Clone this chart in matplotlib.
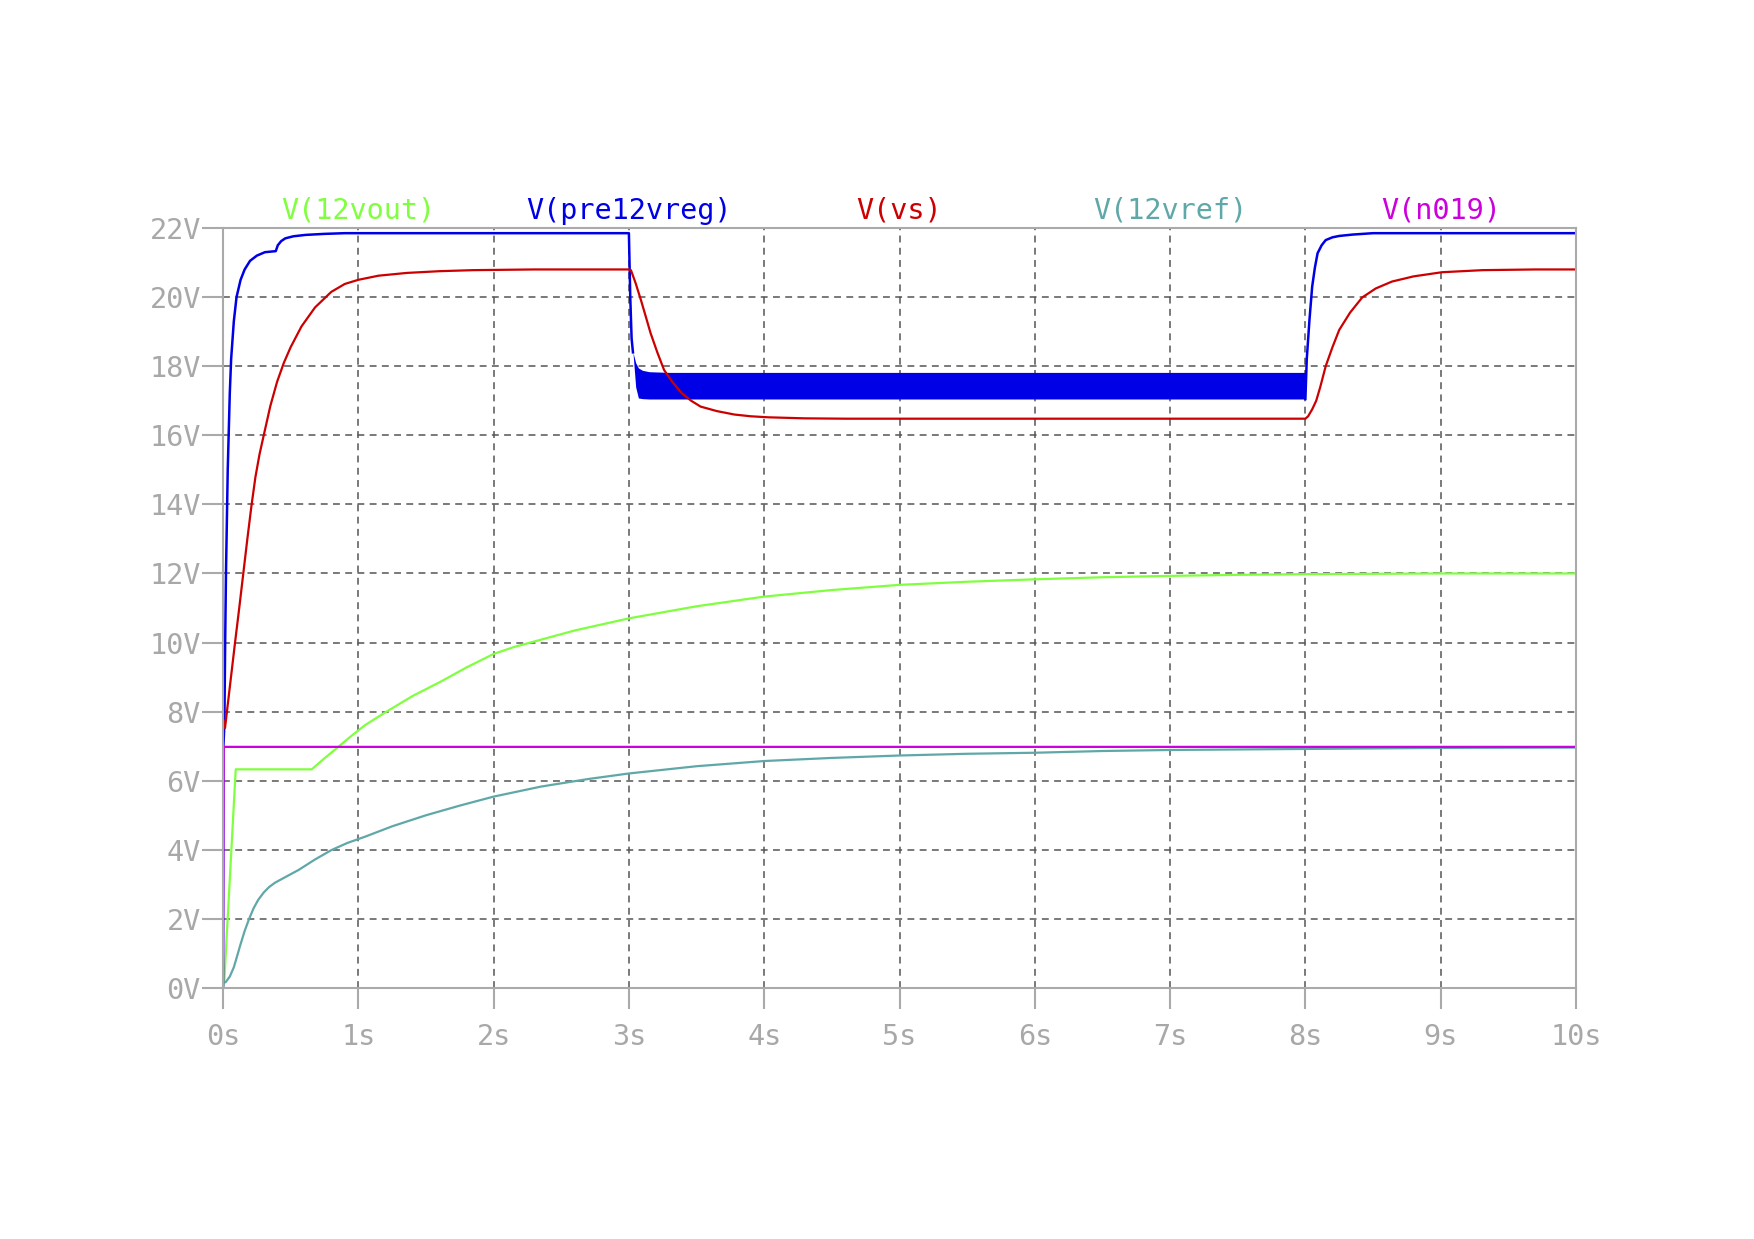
import matplotlib.pyplot as plt

# traces (time in s, voltage in V)
t_vout = [0.0, 0.01, 0.094, 0.656, 0.75, 0.84, 0.94, 1.05, 1.2, 1.4, 1.61, 1.8, 2.0, 2.15, 2.3, 2.6,
          3.0, 3.5, 4.0, 4.5, 5.0, 5.5, 6.0, 6.5, 7.0, 7.5, 8.0, 9.0, 10.0]
v_vout = [0.0, 0.23, 6.33, 6.33, 6.65, 6.94, 7.27, 7.61, 7.98, 8.45, 8.87, 9.28, 9.67, 9.87, 10.03, 10.35,
          10.70, 11.05, 11.33, 11.52, 11.67, 11.76, 11.83, 11.89, 11.93, 11.96, 11.98, 12.0, 12.0]

t_pre = [0.0, 0.003, 0.01, 0.016, 0.022, 0.035, 0.05, 0.06, 0.08, 0.10, 0.13, 0.16, 0.2, 0.25, 0.31,
         0.39, 0.405, 0.43, 0.46, 0.52, 0.61, 0.75, 0.9, 3.0, 3.01, 3.02, 3.03]
v_pre = [0.0, 7.0, 7.6, 10.0, 12.0, 15.0, 17.2, 18.2, 19.3, 20.0, 20.5, 20.8, 21.05, 21.2, 21.3,
         21.33, 21.5, 21.62, 21.7, 21.76, 21.8, 21.83, 21.85, 21.85, 20.0, 18.8, 18.4]
t_pre2 = [8.0, 8.01, 8.03, 8.05, 8.07, 8.09, 8.12, 8.15, 8.2, 8.25, 8.35, 8.5, 10.0]
v_pre2 = [17.05, 18.2, 19.34, 20.3, 20.85, 21.27, 21.5, 21.65, 21.73, 21.77, 21.81, 21.85, 21.85]

# ripple band of V(pre12vreg) between 3 s and 8 s
t_band = [3.03, 3.05, 3.07, 3.1, 3.15, 3.3, 5.0, 8.0]
v_band_hi = [18.4, 18.1, 17.95, 17.88, 17.84, 17.82, 17.82, 17.82]
v_band_lo = [18.4, 17.4, 17.08, 17.06, 17.05, 17.05, 17.05, 17.05]

t_vs = [0.0, 0.015, 0.05, 0.089, 0.12, 0.15, 0.18, 0.21, 0.24, 0.27, 0.30, 0.35, 0.40, 0.45, 0.5, 0.58,
        0.68, 0.8, 0.9, 1.0, 1.15, 1.36, 1.6, 1.85, 2.3, 3.0,
        3.015, 3.05, 3.09, 3.12, 3.16, 3.21, 3.26, 3.32, 3.39, 3.46, 3.53, 3.65, 3.78, 3.9, 4.03,
        4.3, 4.6, 8.0,
        8.02, 8.05, 8.08, 8.11, 8.15, 8.2, 8.25, 8.33, 8.42, 8.52, 8.64, 8.8, 9.01, 9.31, 9.7, 10.0]
v_vs = [7.8, 7.53, 8.7, 10.0, 11.0, 12.0, 13.0, 13.95, 14.8, 15.45, 15.98, 16.85, 17.55, 18.1, 18.55, 19.15,
        19.7, 20.15, 20.38, 20.5, 20.62, 20.7, 20.75, 20.78, 20.8, 20.8,
        20.78, 20.4, 19.9, 19.5, 18.96, 18.4, 17.89, 17.55, 17.22, 17.0, 16.83, 16.7, 16.6, 16.55, 16.52,
        16.49, 16.48, 16.48,
        16.55, 16.75, 17.0, 17.4, 18.0, 18.55, 19.05, 19.55, 19.99, 20.25, 20.45, 20.6, 20.72, 20.78, 20.8, 20.8]

t_vref = [0.0, 0.02, 0.05, 0.08, 0.11, 0.13, 0.16, 0.19, 0.225, 0.26, 0.30, 0.34, 0.385, 0.47, 0.56, 0.68,
          0.80, 0.92, 1.05, 1.25, 1.5, 1.75, 2.0, 2.35, 2.7, 3.0, 3.5, 4.0, 4.5, 5.0, 5.5, 6.0, 6.5, 7.0,
          8.0, 9.0, 10.0]
v_vref = [0.15, 0.17, 0.33, 0.6, 1.0, 1.27, 1.65, 1.97, 2.3, 2.55, 2.76, 2.92, 3.05, 3.23, 3.42, 3.72,
          3.99, 4.2, 4.38, 4.68, 5.0, 5.28, 5.54, 5.83, 6.05, 6.21, 6.42, 6.57, 6.66, 6.73, 6.78, 6.81, 6.86, 6.89,
          6.92, 6.95, 6.96]

t_n019 = [0.0, 0.005, 10.0]
v_n019 = [0.0, 6.98, 6.98]

names = ['V(12vout)', 'V(pre12vreg)', 'V(vs)', 'V(12vref)', 'V(n019)']
name_pos = [1, 3, 5, 7, 9]
colors = ['#80ff40', '#0000e6', '#cc0000', '#60a8a8', '#cc00dd']

yticks = list(range(0, 23, 2))
xticks = list(range(0, 11))

plt.rcParams['font.family'] = ['DejaVu Sans Mono']
fig = plt.figure(figsize=(17.54, 12.39), dpi=100)
ax = fig.add_axes([223 / 1754, 251 / 1239, 1353 / 1754, 760 / 1239])

ax.plot(t_vout, v_vout, color=colors[0], lw=1.6)
ax.plot(t_pre, v_pre, color=colors[1], lw=1.8)
ax.fill_between(t_band, v_band_lo, v_band_hi, color=colors[1], lw=0)
ax.plot(t_pre2, v_pre2, color=colors[1], lw=1.8)
ax.plot(t_vs, v_vs, color=colors[2], lw=1.6)
ax.plot(t_vref, v_vref, color=colors[3], lw=1.6)
ax.plot(t_n019, v_n019, color=colors[4], lw=1.6)

ax.set_xlim(0, 10)
ax.set_ylim(0, 22)
ax.set_xticks(xticks)
ax.set_xticklabels([f'{x}s' for x in xticks])
ax.set_yticks(yticks)
ax.set_yticklabels([f'{y}V' for y in yticks])

for s in ax.spines.values():
    s.set_color('#aaaaaa')
    s.set_linewidth(1.5)
ax.tick_params(axis='both', colors='#aaaaaa', labelcolor='#a8a8a8', labelsize=20.5,
               length=15, width=1.5)
ax.tick_params(axis='x', pad=10)
ax.tick_params(axis='y', pad=1)

for x in xticks[1:-1]:
    ax.axvline(x, color='#555555', lw=1.1, dashes=(4.5, 3.5), zorder=0)
for y in yticks[1:-1]:
    ax.axhline(y, color='#555555', lw=1.1, dashes=(4.5, 3.5), zorder=0)

for n, p, c in zip(names, name_pos, colors):
    ax.text(p, 1.004, n, color=c, fontsize=20.5, ha='center', va='bottom',
            transform=ax.get_xaxis_transform())

fig.savefig('out.png', dpi=100)
